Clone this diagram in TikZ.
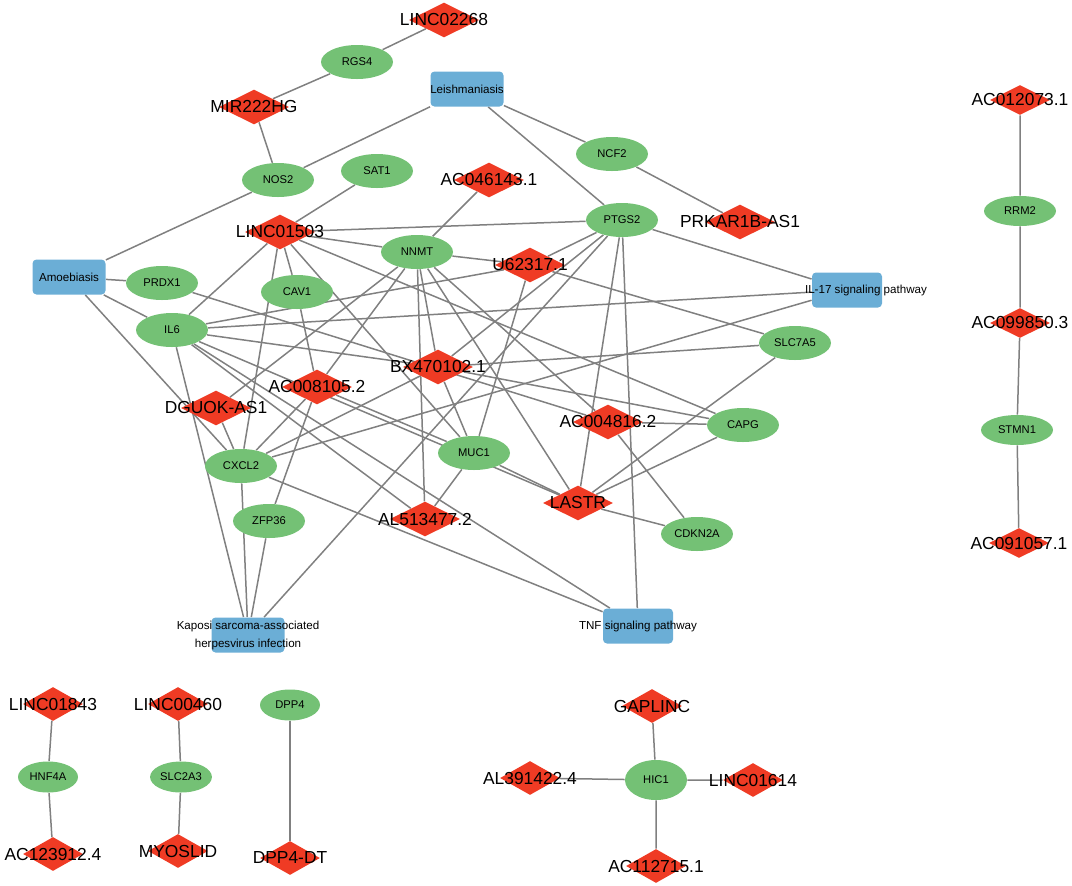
\documentclass[tikz,border=0pt]{standalone}
\usepackage{fontspec}
\setmainfont{Liberation Sans}
\usepackage{tikz}
\usetikzlibrary{shapes.geometric}
\usetikzlibrary{backgrounds}

\definecolor{lncred}{RGB}{239,59,36}
\definecolor{genegreen}{RGB}{116,193,117}
\definecolor{pathblue}{RGB}{107,174,214}
\definecolor{linkgray}{RGB}{128,128,128}

\begin{document}
\begin{tikzpicture}[x=0.5pt,y=-0.5pt]
\tikzset{
    lnctxt/.style = {font=\fontsize{8.7}{10}\selectfont, inner sep=0pt},
    lnc/.style = {diamond, fill=lncred, inner sep=0pt, minimum width=35pt, minimum height=17.5pt, label={[lnctxt]center:#1}},
    lncs/.style = {lnc=#1, minimum width=30pt, minimum height=17pt},
    gene/.style = {ellipse, fill=genegreen, inner sep=0.5pt, minimum width=36pt, minimum height=17pt, font=\fontsize{5.6}{6.5}\selectfont},
    genes/.style = {gene, minimum width=30pt, minimum height=15.5pt},
    pway/.style = {rectangle, rounded corners=2pt, fill=pathblue, minimum width=36.5pt, minimum height=17.5pt},
    pwtxt/.style = {font=\fontsize{5.8}{9}\selectfont, align=center, inner sep=0pt},
    link/.style = {draw=linkgray, line width=0.75pt}
}
\useasboundingbox (0,0) rectangle (1072,885);

\node[pway,label={[pwtxt]center:Leishmaniasis}] (leish) at (467,89) {};
\node[pway,label={[pwtxt]center:Amoebiasis}] (amoeb) at (69,277) {};
\node[pway,minimum width=35pt,label={[pwtxt,xshift=9.5pt]center:IL-17 signaling pathway}] (il17) at (847,290) {};
\node[pway,label={[pwtxt]center:{Kaposi sarcoma-associated\\herpesvirus infection}}] (kaposi) at (248,635) {};
\node[pway,minimum width=35pt,label={[pwtxt]center:TNF signaling pathway}] (tnf) at (638,626) {};

\node[gene] (rgs4) at (357,62) {RGS4};
\node[gene] (nos2) at (278,180) {NOS2};
\node[gene] (sat1) at (377,171) {SAT1};
\node[gene] (ncf2) at (612,154) {NCF2};
\node[gene] (ptgs2) at (622,220) {PTGS2};
\node[gene] (nnmt) at (417,252) {NNMT};
\node[gene] (prdx1) at (162,283) {PRDX1};
\node[gene] (cav1) at (297,292) {CAV1};
\node[gene] (il6) at (172,330) {IL6};
\node[gene] (slc7a5) at (795,343) {SLC7A5};
\node[gene] (capg) at (743,425) {CAPG};
\node[gene] (cxcl2) at (241,466) {CXCL2};
\node[gene] (muc1) at (474,453) {MUC1};
\node[gene] (zfp36) at (269,521) {ZFP36};
\node[gene] (cdkn2a) at (697,534) {CDKN2A};

\node[lnc=LINC02268] (linc02268) at (444,20) {};
\node[lnc=MIR222HG] (mir222hg) at (254,107) {};
\node[lnc=AC046143.1] (ac046143) at (489,180) {};
\node[lnc=PRKAR1B-AS1] (prkar) at (740,222) {};
\node[lnc=LINC01503] (linc01503) at (280,232) {};
\node[lnc=U62317.1] (u62317) at (530,265) {};
\node[lnc=BX470102.1] (bx470102) at (438,367) {};
\node[lnc=AC008105.2] (ac008105) at (317,387) {};
\node[lnc=DGUOK-AS1] (dguok) at (216,408) {};
\node[lnc=AC004816.2] (ac004816) at (608,422) {};
\node[lnc=LASTR] (lastr) at (578,503) {};
\node[lnc=AL513477.2] (al513477) at (425,519) {};

\node[lncs=AC012073.1,minimum height=15pt] (ac012073) at (1020,100) {};
\node[gene,minimum height=15pt] (rrm2) at (1020,211) {RRM2};
\node[lncs=AC099850.3,minimum height=15pt] (ac099850) at (1020,323) {};
\node[gene,minimum height=15pt] (stmn1) at (1017,430) {STMN1};
\node[lncs=AC091057.1,minimum height=15pt] (ac091057) at (1019,543) {};

\node[lncs=LINC01843] (linc01843) at (53,704) {};
\node[genes] (hnf4a) at (48,777) {HNF4A};
\node[lncs=AC123912.4] (ac123912) at (53,854) {};
\node[lncs=LINC00460] (linc00460) at (178,704) {};
\node[genes] (slc2a3) at (181,777) {SLC2A3};
\node[lncs=MYOSLID] (myoslid) at (178,851) {};
\node[genes] (dpp4) at (290,705) {DPP4};
\node[lncs=DPP4-DT] (dpp4dt) at (290,858) {};
\node[lncs=GAPLINC] (gaplinc) at (652,706) {};
\node[genes,minimum width=31pt,minimum height=20pt] (hic1) at (656,780) {HIC1};
\node[lncs=AL391422.4] (al391422) at (530,778) {};
\node[lncs=LINC01614] (linc01614) at (753,780) {};
\node[lncs=AC112715.1] (ac112715) at (656,866) {};

\begin{pgfonlayer}{background}
\draw[link] (linc02268) -- (rgs4) -- (mir222hg) -- (nos2);
\draw[link] (leish) -- (nos2) (leish) -- (ncf2) (leish) -- (ptgs2) (ncf2) -- (prkar);
\draw[link] (amoeb) -- (nos2) (amoeb) -- (prdx1) (amoeb) -- (il6) (amoeb) -- (cxcl2);
\draw[link] (sat1) -- (linc01503) (ac046143) -- (nnmt);
\draw[link] (linc01503) -- (ptgs2) (linc01503) -- (nnmt) (linc01503) -- (il6) (linc01503) -- (cav1);
\draw[link] (linc01503) -- (cxcl2) (linc01503) -- (muc1) (linc01503) -- (capg);
\draw[link] (nnmt) -- (u62317) (nnmt) -- (bx470102) (nnmt) -- (al513477) (nnmt) -- (ac008105);
\draw[link] (nnmt) -- (dguok) (nnmt) -- (lastr) (nnmt) -- (ac004816);
\draw[link] (ptgs2) -- (il17) (ptgs2) -- (tnf) (ptgs2) -- (kaposi) (ptgs2) -- (u62317);
\draw[link] (ptgs2) -- (bx470102) (ptgs2) -- (lastr);
\draw[link] (u62317) -- (il6) (u62317) -- (slc7a5) (u62317) -- (muc1);
\draw[link] (il6) -- (il17) (il6) -- (bx470102) (il6) -- (tnf) (il6) -- (kaposi);
\draw[link] (il6) -- (al513477) (il6) -- (lastr);
\draw[link] (bx470102) -- (slc7a5) (bx470102) -- (muc1) (bx470102) -- (cxcl2) (bx470102) -- (capg);
\draw[link] (il17) -- (cxcl2) (slc7a5) -- (lastr);
\draw[link] (capg) -- (ac004816) (capg) -- (lastr) (cdkn2a) -- (ac004816) (cdkn2a) -- (lastr);
\draw[link] (ac008105) -- (cav1) (ac008105) -- (cxcl2) (ac008105) -- (zfp36) (ac008105) -- (muc1);
\draw[link] (dguok) -- (cxcl2) (cxcl2) -- (kaposi) (cxcl2) -- (tnf) (zfp36) -- (kaposi);
\draw[link] (muc1) -- (al513477) (muc1) -- (lastr) (prdx1) -- (ac004816);
\draw[link] (ac012073) -- (rrm2) -- (ac099850) -- (stmn1) -- (ac091057);
\draw[link] (linc01843) -- (hnf4a) -- (ac123912);
\draw[link] (linc00460) -- (slc2a3) -- (myoslid);
\draw[link] (dpp4) -- (dpp4dt);
\draw[link] (gaplinc) -- (hic1) (al391422) -- (hic1) (hic1) -- (linc01614) (hic1) -- (ac112715);
\end{pgfonlayer}
\end{tikzpicture}
\end{document}
